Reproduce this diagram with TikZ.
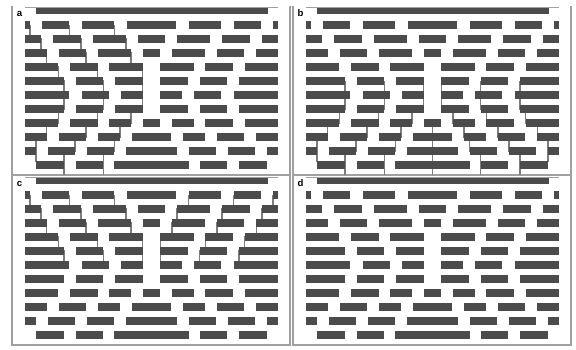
\documentclass[tikz,border=0pt]{standalone}
\usepackage{fontspec}
\setmainfont{Liberation Sans}

\definecolor{brickgray}{RGB}{75,75,75}
\definecolor{crackgray}{RGB}{125,125,125}
\definecolor{framegray}{RGB}{160,160,160}

\tikzset{
  brick/.style={fill=brickgray},
  crack/.style={draw=crackgray,line width=0.55pt},
  frame/.style={draw=framegray,line width=0.7pt},
  panellabel/.style={font=\fontsize{4.8}{5}\selectfont\bfseries,inner sep=0pt,anchor=base}
}

% cracks of the left half, rows 1--6
\newcommand{\uppercracks}{%
  \draw[crack] (30,25) -- (30,39) -| (41,53) -| (46.7,67) -| (58.3,81) -| (64,92);
  \draw[crack] (69.3,25) -- (69.3,39) -| (81,53) -| (86,67) -| (97.7,81) -| (103.3,92);
  \draw[crack] (114.3,25) -- (114.3,39) -| (126,53) -| (131,67) -| (142.7,81) -| (142.7,92);
}
% cracks of the left half, rows 5--11
\newcommand{\lowercracks}{%
  \draw[crack] (64,81) -- (64,109) -| (58.3,123) -| (46.7,137) -| (36,151) -| (36,161.5);
  \draw[crack] (103.3,81) -- (103.3,109) -| (97.7,123) -| (86,137) -| (75,151) -| (64,175);
  \draw[crack] (142.7,81) -- (142.7,109) -| (131,123) -| (120,137) -| (114.3,151) -| (103.3,175);
}
% the bricks, left half given, right half mirrored
\newcommand{\brickrows}{%
  \foreach \y/\row in {
      25/{25/30,41.7/69.3,81.7/114.3,126.7/176.3},
      39/{25/41,53.3/81,92.7/126,138.3/164.7},
      53/{25/46.7,59/86,98.3/131,143.3/159.7},
      67/{25/58.3,70/97.7,109.3/142.7},
      81/{25/64,75.7/103.3,115/142.7},
      95/{25/69.3,81.7/109.3,120.7/142.7},
      109/{25/64,75.7/103.3,115/142.7},
      123/{25/58.3,70/97.7,109.3/131,143.3/159.7},
      137/{25/46.7,59/86,98.3/120,131.7/171.3},
      151/{25/36,47.7/75,86.7/114.3,126/177},
      165/{36/64,75.7/103.3,114.3/188.7}}{
    \foreach \a/\b in \row {
      \fill[brick] (\a,\y-3.6) rectangle (\b,\y+3.6);
      \fill[brick] (303-\b,\y-3.6) rectangle (303-\a,\y+3.6);
    }
  }%
}

\begin{document}
\begin{tikzpicture}[x=0.5pt,y=-0.5pt]
  \useasboundingbox (0,0) rectangle (576,349);

  % frames, top bars and labels
  \foreach \px/\py/\lab in {0/0/a,281/0/b,0/170/c,281/170/d}{
    \begin{scope}[shift={(\px,\py)}]
      \draw[frame] (12,6) -- (12,175) -- (290,175) -- (290,6);
      \draw[frame] (25,7.3) -- (278,7.3);
      \fill[brick] (36,8) rectangle (267.5,14.3);
      \node[panellabel] (lab\lab) at (19.5,16.5) {\lab};
    \end{scope}
  }

  % panel a
  \uppercracks
  \lowercracks
  % panel b
  \begin{scope}[shift={(281,0)}]
    \lowercracks
    \coordinate (midtop) at (151.5,119.5);
    \coordinate (midbot) at (151.5,175);
    \draw[crack] (midtop) -- (midbot);
  \end{scope}
  \begin{scope}[shift={(584,0)},xscale=-1]
    \lowercracks
  \end{scope}
  % panel c
  \begin{scope}[shift={(0,170)}]
    \uppercracks
  \end{scope}
  \begin{scope}[shift={(303,170)},xscale=-1]
    \uppercracks
  \end{scope}

  % bricks on top of the cracks
  \foreach \px/\py in {0/0,281/0,0/170,281/170}{
    \begin{scope}[shift={(\px,\py)}]
      \brickrows
    \end{scope}
  }
\end{tikzpicture}
\end{document}
